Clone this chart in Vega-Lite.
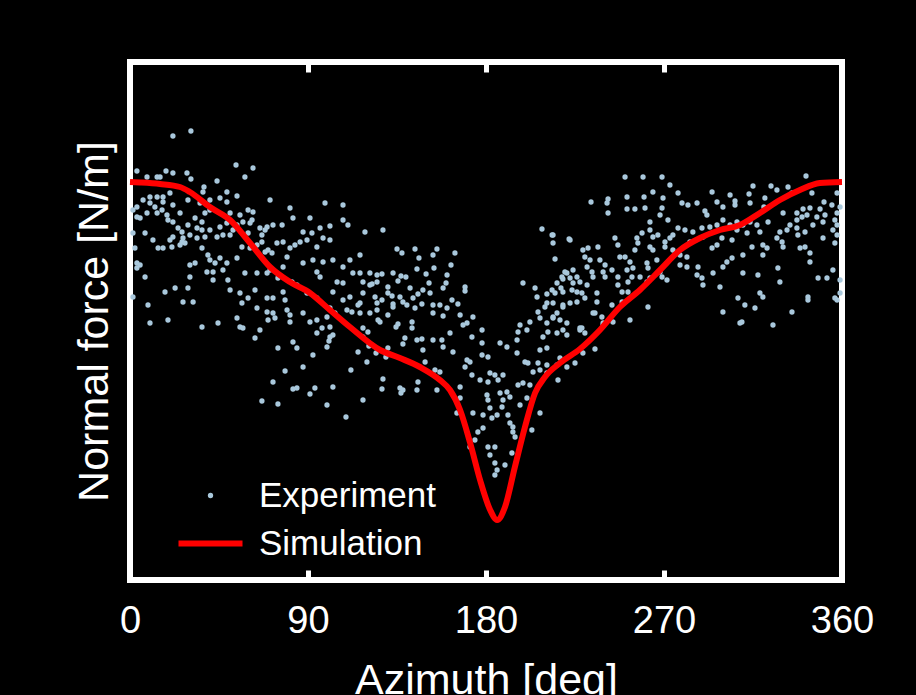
{
"$schema": "https://vega.github.io/schema/vega-lite/v6.json",
"width": 712, "height": 518,
"autosize": {"type": "none"},
"padding": {"left": 130, "top": 62, "right": 74, "bottom": 115},
"background": "#000000",
"config": {"view": {"stroke": "#ffffff", "strokeWidth": 6}, "font": "Liberation Sans"},
"datasets": {
"experiment": [
{"az":21.7,"force":4.44},{"az":30.8,"force":4.49},{"az":3.5,"force":4.09},{"az":8.6,"force":4.03},{"az":13.7,"force":4.03},{"az":15.2,"force":4.03},{"az":18.2,"force":4.09},{"az":21.7,"force":4.07},{"az":28.8,"force":4.07},{"az":30.8,"force":4.01},{"az":53.6,"force":4.15},{"az":62.2,"force":4.12},{"az":58.1,"force":4.03},{"az":44.0,"force":3.99},{"az":37.4,"force":3.93},{"az":36.9,"force":3.88},{"az":49.0,"force":3.88},{"az":54.1,"force":3.84},{"az":45.5,"force":3.82},{"az":40.4,"force":3.80},{"az":35.4,"force":3.77},{"az":29.3,"force":3.80},{"az":20.2,"force":3.87},{"az":16.7,"force":3.83},{"az":13.7,"force":3.83},{"az":10.1,"force":3.83},{"az":6.6,"force":3.80},{"az":3.5,"force":3.73},{"az":10.1,"force":3.77},{"az":12.6,"force":3.73},{"az":16.7,"force":3.78},{"az":21.7,"force":3.75},{"az":16.2,"force":3.70},{"az":18.7,"force":3.65},{"az":13.7,"force":3.67},{"az":8.6,"force":3.67},{"az":5.1,"force":3.62},{"az":3.5,"force":3.63},{"az":1.5,"force":3.70},{"az":25.3,"force":3.67},{"az":21.7,"force":3.58},{"az":19.2,"force":3.60},{"az":24.3,"force":3.52},{"az":29.3,"force":3.55},{"az":33.9,"force":3.52},{"az":36.4,"force":3.50},{"az":40.4,"force":3.50},{"az":45.5,"force":3.53},{"az":49.0,"force":3.57},{"az":50.6,"force":3.67},{"az":55.6,"force":3.65},{"az":59.7,"force":3.70},{"az":62.2,"force":3.68},{"az":61.7,"force":3.60},{"az":57.1,"force":3.58},{"az":54.1,"force":3.55},{"az":52.1,"force":3.50},{"az":50.6,"force":3.45},{"az":47.0,"force":3.45},{"az":44.0,"force":3.43},{"az":37.9,"force":3.43},{"az":33.9,"force":3.42},{"az":30.3,"force":3.45},{"az":26.8,"force":3.42},{"az":26.3,"force":3.48},{"az":21.7,"force":3.43},{"az":20.2,"force":3.40},{"az":26.3,"force":3.38},{"az":27.8,"force":3.37},{"az":25.3,"force":3.35},{"az":21.2,"force":3.33},{"az":16.7,"force":3.32},{"az":14.2,"force":3.32},{"az":11.6,"force":3.40},{"az":7.6,"force":3.47},{"az":1.5,"force":3.47},{"az":2.5,"force":3.32},{"az":3.5,"force":3.17},{"az":5.1,"force":3.15},{"az":3.5,"force":3.12},{"az":7.6,"force":3.03},{"az":1.5,"force":2.83},{"az":9.1,"force":2.75},{"az":10.1,"force":2.57},{"az":19.2,"force":2.60},{"az":17.7,"force":2.88},{"az":22.8,"force":2.92},{"az":29.3,"force":2.92},{"az":26.8,"force":2.78},{"az":31.9,"force":2.78},{"az":30.3,"force":3.03},{"az":30.3,"force":3.15},{"az":32.9,"force":3.17},{"az":36.4,"force":3.32},{"az":39.4,"force":3.25},{"az":40.4,"force":3.20},{"az":43.0,"force":3.17},{"az":45.5,"force":3.22},{"az":49.0,"force":3.17},{"az":47.0,"force":3.10},{"az":42.0,"force":3.08},{"az":38.9,"force":3.08},{"az":42.0,"force":3.00},{"az":49.5,"force":3.00},{"az":54.1,"force":3.22},{"az":56.6,"force":3.33},{"az":60.7,"force":3.32},{"az":66.7,"force":3.38},{"az":66.7,"force":3.45},{"az":64.2,"force":3.35},{"az":68.3,"force":3.28},{"az":69.3,"force":3.07},{"az":64.2,"force":3.07},{"az":58.1,"force":3.07},{"az":55.6,"force":2.87},{"az":59.7,"force":2.82},{"az":63.2,"force":2.90},{"az":50.6,"force":2.90},{"az":56.6,"force":2.77},{"az":64.2,"force":2.72},{"az":69.3,"force":2.68},{"az":72.3,"force":2.67},{"az":73.3,"force":2.62},{"az":69.8,"force":2.60},{"az":65.7,"force":2.50},{"az":54.1,"force":2.62},{"az":55.6,"force":2.53},{"az":57.1,"force":2.52},{"az":44.5,"force":2.57},{"az":36.4,"force":2.53},{"az":63.2,"force":2.42},{"az":74.8,"force":2.32},{"az":82.4,"force":2.38},{"az":84.4,"force":2.32},{"az":80.9,"force":2.58},{"az":79.4,"force":2.70},{"az":80.9,"force":2.65},{"az":87.5,"force":2.67},{"az":91.0,"force":2.58},{"az":94.5,"force":2.60},{"az":99.6,"force":2.63},{"az":101.1,"force":2.72},{"az":94.5,"force":2.82},{"az":89.5,"force":2.87},{"az":84.4,"force":2.95},{"az":81.9,"force":2.98},{"az":77.4,"force":2.88},{"az":72.3,"force":2.82},{"az":69.3,"force":2.82},{"az":78.4,"force":2.80},{"az":70.8,"force":3.10},{"az":74.8,"force":3.02},{"az":77.4,"force":3.13},{"az":79.4,"force":3.23},{"az":80.9,"force":3.32},{"az":83.4,"force":3.35},{"az":86.0,"force":3.38},{"az":87.5,"force":3.17},{"az":92.5,"force":3.20},{"az":94.5,"force":3.08},{"az":96.1,"force":3.03},{"az":97.6,"force":3.18},{"az":102.6,"force":3.20},{"az":107.7,"force":3.13},{"az":111.2,"force":3.20},{"az":116.3,"force":3.25},{"az":112.7,"force":3.07},{"az":116.3,"force":3.07},{"az":121.3,"force":3.07},{"az":124.9,"force":3.05},{"az":117.8,"force":2.98},{"az":121.3,"force":2.95},{"az":124.9,"force":2.98},{"az":123.9,"force":2.83},{"az":124.9,"force":2.77},{"az":117.8,"force":2.87},{"az":116.3,"force":2.77},{"az":111.2,"force":2.83},{"az":107.7,"force":2.80},{"az":102.6,"force":2.88},{"az":104.7,"force":2.98},{"az":107.7,"force":2.97},{"az":112.2,"force":2.68},{"az":116.3,"force":2.67},{"az":121.3,"force":2.67},{"az":124.9,"force":2.70},{"az":120.3,"force":2.48},{"az":125.4,"force":2.60},{"az":94.5,"force":2.47},{"az":101.1,"force":2.43},{"az":99.6,"force":2.33},{"az":117.8,"force":2.43},{"az":121.3,"force":2.35},{"az":107.7,"force":3.60},{"az":110.2,"force":3.55},{"az":101.1,"force":3.54},{"az":96.1,"force":3.52},{"az":91.0,"force":3.62},{"az":92.0,"force":3.47},{"az":80.9,"force":3.72},{"az":82.4,"force":3.62},{"az":76.9,"force":3.55},{"az":72.3,"force":3.55},{"az":69.3,"force":3.53},{"az":68.3,"force":3.50},{"az":65.7,"force":3.52},{"az":70.8,"force":3.80},{"az":98.6,"force":3.77},{"az":107.7,"force":3.75},{"az":118.8,"force":3.48},{"az":101.1,"force":3.40},{"az":97.6,"force":3.42},{"az":94.5,"force":3.33},{"az":89.5,"force":3.40},{"az":87.5,"force":3.48},{"az":77.4,"force":3.38},{"az":74.3,"force":3.37},{"az":71.8,"force":3.27},{"az":69.8,"force":3.30},{"az":59.7,"force":3.47},{"az":60.7,"force":3.57},{"az":49.0,"force":3.78},{"az":40.4,"force":3.70},{"az":37.9,"force":3.67},{"az":32.9,"force":3.62},{"az":36.4,"force":3.58},
{"az":97.1,"force":2.52},{"az":101.1,"force":2.53},{"az":102.6,"force":2.45},{"az":100.6,"force":2.39},{"az":92.5,"force":2.25},{"az":87.5,"force":2.13},{"az":78.4,"force":2.09},{"az":72.3,"force":1.98},{"az":82.4,"force":1.91},{"az":84.4,"force":1.92},{"az":93.5,"force":1.92},{"az":91.0,"force":1.86},{"az":66.7,"force":1.79},{"az":74.8,"force":1.76},{"az":99.6,"force":1.75},{"az":102.6,"force":1.93},{"az":109.2,"force":1.63},{"az":111.7,"force":2.10},{"az":115.3,"force":2.28},{"az":119.8,"force":2.18},{"az":120.8,"force":2.34},{"az":124.4,"force":2.27},{"az":129.4,"force":2.23},{"az":130.4,"force":2.32},{"az":127.9,"force":2.01},{"az":127.4,"force":1.91},{"az":117.8,"force":1.80},{"az":136.5,"force":1.92},{"az":137.0,"force":1.87},{"az":139.0,"force":2.42},{"az":138.0,"force":2.36},{"az":134.5,"force":2.53},{"az":135.5,"force":2.56},{"az":126.4,"force":2.58},{"az":115.3,"force":2.75},{"az":133.0,"force":2.73},{"az":140.0,"force":2.75},{"az":130.4,"force":2.65},{"az":109.7,"force":2.70},{"az":117.8,"force":2.52},{"az":103.6,"force":2.67},
{"az":127.9,"force":3.50},{"az":208.3,"force":3.51},{"az":213.9,"force":3.45},{"az":222.0,"force":3.41},{"az":135.0,"force":3.31},{"az":137.5,"force":3.27},{"az":144.1,"force":3.31},{"az":155.2,"force":3.31},{"az":164.3,"force":3.27},{"az":146.1,"force":3.22},{"az":153.2,"force":3.25},{"az":162.3,"force":3.15},{"az":214.9,"force":3.21},{"az":145.1,"force":3.11},{"az":153.7,"force":3.12},{"az":127.4,"force":3.06},{"az":133.0,"force":3.07},{"az":137.0,"force":3.04},{"az":139.5,"force":3.03},{"az":149.7,"force":3.06},{"az":160.3,"force":3.05},{"az":198.7,"force":2.97},{"az":204.8,"force":2.92},{"az":218.9,"force":3.01},{"az":220.9,"force":3.07},{"az":135.5,"force":2.99},{"az":122.4,"force":2.96},{"az":130.4,"force":2.93},{"az":141.6,"force":2.92},{"az":151.2,"force":2.97},{"az":159.8,"force":2.97},{"az":158.3,"force":2.92},{"az":169.4,"force":2.93},{"az":169.4,"force":2.89},{"az":130.4,"force":2.87},{"az":132.5,"force":2.84},{"az":148.1,"force":2.90},{"az":151.7,"force":2.87},{"az":145.6,"force":2.86},{"az":136.5,"force":2.83},{"az":127.4,"force":2.80},{"az":138.0,"force":2.78},{"az":143.1,"force":2.82},{"az":162.8,"force":2.80},{"az":165.8,"force":2.76},{"az":156.7,"force":2.75},{"az":147.6,"force":2.76},{"az":133.0,"force":2.76},{"az":205.8,"force":2.83},{"az":210.8,"force":2.86},{"az":214.9,"force":2.87},{"az":217.9,"force":2.92},{"az":209.8,"force":2.73},{"az":213.9,"force":2.77},
{"az":144.1,"force":2.72},{"az":153.2,"force":2.75},{"az":160.3,"force":2.72},{"az":153.2,"force":2.67},{"az":158.3,"force":2.64},{"az":166.9,"force":2.65},{"az":173.4,"force":2.63},{"az":170.4,"force":2.57},{"az":142.6,"force":2.58},{"az":142.6,"force":2.52},{"az":145.1,"force":2.40},{"az":147.6,"force":2.41},{"az":153.2,"force":2.40},{"az":157.7,"force":2.40},{"az":161.8,"force":2.47},{"az":168.4,"force":2.55},{"az":178.0,"force":2.50},{"az":172.9,"force":2.43},{"az":178.0,"force":2.37},{"az":158.3,"force":2.33},{"az":163.3,"force":2.28},{"az":148.1,"force":2.30},{"az":149.2,"force":2.18},{"az":154.2,"force":2.10},{"az":156.7,"force":2.08},{"az":170.4,"force":2.20},{"az":171.9,"force":2.18},{"az":169.4,"force":2.13},{"az":178.0,"force":2.25},{"az":181.0,"force":2.23},{"az":187.1,"force":2.37},{"az":190.6,"force":2.33},{"az":195.7,"force":2.40},{"az":197.2,"force":2.55},{"az":196.2,"force":2.48},{"az":202.2,"force":2.58},{"az":200.7,"force":2.50},{"az":207.3,"force":2.62},{"az":210.8,"force":2.57},{"az":213.9,"force":2.62},{"az":208.8,"force":2.43},{"az":211.3,"force":2.48},{"az":215.9,"force":2.47},{"az":220.9,"force":2.45},{"az":227.5,"force":2.52},{"az":230.0,"force":2.47},{"az":234.1,"force":2.67},{"az":218.9,"force":2.73},{"az":206.3,"force":2.68},{"az":210.8,"force":2.77},{"az":207.3,"force":2.30},{"az":210.8,"force":2.32},{"az":206.3,"force":2.17},{"az":199.7,"force":2.18},{"az":195.7,"force":2.27},{"az":201.2,"force":2.17},{"az":203.8,"force":2.08},{"az":207.3,"force":2.10},{"az":210.8,"force":2.15},{"az":215.9,"force":2.15},{"az":217.4,"force":2.22},{"az":220.9,"force":2.13},{"az":225.0,"force":2.17},{"az":210.8,"force":2.07},{"az":216.4,"force":2.00},{"az":202.2,"force":1.95},{"az":198.7,"force":1.97},{"az":196.2,"force":1.95},{"az":188.6,"force":2.05},{"az":184.5,"force":2.05},{"az":182.0,"force":2.07},{"az":177.0,"force":2.00},{"az":181.0,"force":1.98},{"az":172.9,"force":2.05},{"az":186.1,"force":2.00},{"az":190.6,"force":1.88},{"az":187.1,"force":1.87},{"az":192.1,"force":1.83},{"az":180.5,"force":1.85},{"az":181.0,"force":1.80},{"az":182.0,"force":1.72},{"az":188.6,"force":1.80},{"az":188.1,"force":1.73},{"az":191.1,"force":1.65},{"az":185.6,"force":1.65},{"az":183.0,"force":1.62},{"az":178.5,"force":1.65},{"az":173.4,"force":1.67},{"az":166.9,"force":1.93},{"az":166.9,"force":1.82},{"az":165.3,"force":1.67},{"az":155.2,"force":1.90},{"az":145.6,"force":1.98},{"az":145.1,"force":1.90},{"az":138.0,"force":1.90},{"az":193.6,"force":1.53},{"az":192.1,"force":1.57},{"az":193.6,"force":1.48},{"az":194.7,"force":1.43},{"az":203.2,"force":1.50},{"az":207.3,"force":1.67},{"az":197.2,"force":1.75},{"az":200.7,"force":1.82},{"az":178.5,"force":1.52},{"az":175.9,"force":1.48},{"az":174.4,"force":1.40},{"az":181.0,"force":1.33},{"az":184.5,"force":1.33},{"az":182.0,"force":1.25},{"az":184.5,"force":1.17},{"az":189.6,"force":1.15},{"az":185.6,"force":1.10},{"az":184.5,"force":1.05},{"az":193.1,"force":1.27},{"az":171.9,"force":1.33},
{"az":250.3,"force":4.03},{"az":259.4,"force":4.03},{"az":269.0,"force":4.03},{"az":273.0,"force":3.95},{"az":341.8,"force":4.04},{"az":233.1,"force":3.78},{"az":241.7,"force":3.81},{"az":241.2,"force":3.77},{"az":241.7,"force":3.67},{"az":251.3,"force":3.83},{"az":259.9,"force":3.83},{"az":269.5,"force":3.82},{"az":264.4,"force":3.88},{"az":277.1,"force":3.87},{"az":294.3,"force":3.88},{"az":303.4,"force":3.85},{"az":305.9,"force":3.79},{"az":313.0,"force":3.86},{"az":315.0,"force":3.94},{"az":324.1,"force":3.94},{"az":327.1,"force":3.90},{"az":332.7,"force":3.93},{"az":334.7,"force":3.87},{"az":344.8,"force":3.87},{"az":357.5,"force":3.87},{"az":251.3,"force":3.71},{"az":255.3,"force":3.71},{"az":260.4,"force":3.72},{"az":269.0,"force":3.72},{"az":279.1,"force":3.77},{"az":282.1,"force":3.75},{"az":286.7,"force":3.77},{"az":290.7,"force":3.69},{"az":291.7,"force":3.65},{"az":296.8,"force":3.78},{"az":299.8,"force":3.73},{"az":305.9,"force":3.75},{"az":313.5,"force":3.77},{"az":321.0,"force":3.82},{"az":320.5,"force":3.73},{"az":330.2,"force":3.67},{"az":337.2,"force":3.67},{"az":340.3,"force":3.71},{"az":343.8,"force":3.72},{"az":348.9,"force":3.71},{"az":350.9,"force":3.78},{"az":354.9,"force":3.75},{"az":357.5,"force":3.67},{"az":359.0,"force":3.73},{"az":337.2,"force":3.60},{"az":339.8,"force":3.63},{"az":342.3,"force":3.65},{"az":347.3,"force":3.63},{"az":350.4,"force":3.58},{"az":351.4,"force":3.65},{"az":356.4,"force":3.60},{"az":345.3,"force":3.55},{"az":341.3,"force":3.48},{"az":333.7,"force":3.55},{"az":332.2,"force":3.50},{"az":328.6,"force":3.48},{"az":327.1,"force":3.42},{"az":329.7,"force":3.38},{"az":337.2,"force":3.52},{"az":337.7,"force":3.45},{"az":330.2,"force":3.33},{"az":338.8,"force":3.32},{"az":341.3,"force":3.33},{"az":350.4,"force":3.42},{"az":356.4,"force":3.37},{"az":357.5,"force":3.45},{"az":355.4,"force":3.50},{"az":357.5,"force":3.55},{"az":299.8,"force":3.60},{"az":303.4,"force":3.55},{"az":306.9,"force":3.58},{"az":309.9,"force":3.55},{"az":313.5,"force":3.58},{"az":317.0,"force":3.55},{"az":322.6,"force":3.58},{"az":318.5,"force":3.48},{"az":289.2,"force":3.52},{"az":293.2,"force":3.53},{"az":296.8,"force":3.55},{"az":284.6,"force":3.48},{"az":283.1,"force":3.38},{"az":289.7,"force":3.43},{"az":296.8,"force":3.35},{"az":299.3,"force":3.42},{"az":294.3,"force":3.32},{"az":304.4,"force":3.40},{"az":312.0,"force":3.47},{"az":306.9,"force":3.50},{"az":320.0,"force":3.35},{"az":314.5,"force":3.33},{"az":322.1,"force":3.32},{"az":343.8,"force":3.27},{"az":320.0,"force":3.25},{"az":309.9,"force":3.25},{"az":301.8,"force":3.18},{"az":299.8,"force":3.13},{"az":304.4,"force":3.22},{"az":343.8,"force":3.18},{"az":347.9,"force":3.02},{"az":352.4,"force":3.02},{"az":359.0,"force":3.00},{"az":355.4,"force":3.10},{"az":342.8,"force":2.83},{"az":356.4,"force":2.82},{"az":359.0,"force":2.87},{"az":334.7,"force":2.68},{"az":325.1,"force":2.55},{"az":309.4,"force":2.58},{"az":307.4,"force":2.82},{"az":310.9,"force":2.75},{"az":316.0,"force":2.72},{"az":318.5,"force":2.87},{"az":320.0,"force":2.83},{"az":327.6,"force":3.12},{"az":328.6,"force":2.98},{"az":317.5,"force":3.05},{"az":309.9,"force":3.07},{"az":298.3,"force":2.93},{"az":294.8,"force":3.07},{"az":289.2,"force":3.02},{"az":289.7,"force":2.95},{"az":286.7,"force":3.05},{"az":287.2,"force":3.13},{"az":281.6,"force":3.13},{"az":278.1,"force":3.15},{"az":281.6,"force":3.23},{"az":278.1,"force":3.25},{"az":274.5,"force":3.30},{"az":270.5,"force":3.33},{"az":270.5,"force":3.38},{"az":273.0,"force":3.42},{"az":274.5,"force":3.45},{"az":280.6,"force":3.50},{"az":277.1,"force":3.52},{"az":272.0,"force":3.60},{"az":268.0,"force":3.65},{"az":262.9,"force":3.58},{"az":258.9,"force":3.47},{"az":256.3,"force":3.42},{"az":256.8,"force":3.37},{"az":255.3,"force":3.30},{"az":262.9,"force":3.33},{"az":264.4,"force":3.30},{"az":266.4,"force":3.20},{"az":261.4,"force":3.17},{"az":261.9,"force":3.12},{"az":268.0,"force":3.08},{"az":269.0,"force":3.03},{"az":271.5,"force":3.00},{"az":262.9,"force":3.02},{"az":261.4,"force":2.98},{"az":257.9,"force":3.03},{"az":253.8,"force":3.03},{"az":251.3,"force":3.10},{"az":251.8,"force":2.98},{"az":246.7,"force":3.03},{"az":246.7,"force":2.95},{"az":243.7,"force":3.10},{"az":240.2,"force":3.15},{"az":237.6,"force":3.20},{"az":236.6,"force":3.33},{"az":231.6,"force":3.32},{"az":229.0,"force":3.30},{"az":230.0,"force":3.23},{"az":232.6,"force":3.20},{"az":231.1,"force":3.13},{"az":239.2,"force":3.08},{"az":233.6,"force":3.08},{"az":234.1,"force":3.03},{"az":240.2,"force":3.03},{"az":245.2,"force":3.42},{"az":246.7,"force":3.35},{"az":247.7,"force":3.23},{"az":250.3,"force":3.23},{"az":252.8,"force":3.18},{"az":254.3,"force":3.12},{"az":264.4,"force":3.43},{"az":262.9,"force":3.50},{"az":266.9,"force":3.45},{"az":222.5,"force":3.40},{"az":219.9,"force":3.08},{"az":224.0,"force":3.10},{"az":222.5,"force":3.02},{"az":226.0,"force":3.03},{"az":227.5,"force":2.98},{"az":224.0,"force":2.97},{"az":218.4,"force":3.03},{"az":215.9,"force":2.97},{"az":213.4,"force":2.90},{"az":218.9,"force":2.88},{"az":223.5,"force":2.90},{"az":226.0,"force":2.88},{"az":228.5,"force":2.87},{"az":230.0,"force":2.82},{"az":231.1,"force":2.95},{"az":236.1,"force":2.87},{"az":236.1,"force":2.78},{"az":226.0,"force":2.78},{"az":222.5,"force":2.77},{"az":218.9,"force":2.75},{"az":215.9,"force":2.67},{"az":217.4,"force":2.60},{"az":220.9,"force":2.57},{"az":218.9,"force":2.50},{"az":213.9,"force":2.63},{"az":227.5,"force":2.50},{"az":235.1,"force":2.67},{"az":238.6,"force":2.63},{"az":239.2,"force":2.57},{"az":244.2,"force":2.58},{"az":252.8,"force":2.60},{"az":248.8,"force":2.78},{"az":261.9,"force":2.73},{"az":251.8,"force":2.88},{"az":248.8,"force":2.88},{"az":243.7,"force":2.75},{"az":213.4,"force":3.45},{"az":213.9,"force":3.37},
{"az":239.2,"force":2.55},{"az":228.5,"force":2.52},{"az":229.0,"force":2.27},{"az":235.1,"force":2.31},{"az":299.8,"force":2.68},{"az":308.4,"force":2.57},{"az":342.8,"force":2.80},{"az":357.5,"force":2.80}
],
"simulation": [
{"az":0,"force":3.98},{"az":5.1,"force":3.975},{"az":15.2,"force":3.96},{"az":25.3,"force":3.93},{"az":30.3,"force":3.88},{"az":40.4,"force":3.73},{"az":50.6,"force":3.60},{"az":60.7,"force":3.37},{"az":70.8,"force":3.13},{"az":80.9,"force":2.98},{"az":91.0,"force":2.87},{"az":101.1,"force":2.70},{"az":111.2,"force":2.53},{"az":126.4,"force":2.30},{"az":136.5,"force":2.22},{"az":146.6,"force":2.13},{"az":156.7,"force":2.00},{"az":161.8,"force":1.90},{"az":166.9,"force":1.70},{"az":172.0,"force":1.37},{"az":177.0,"force":1.00},{"az":182.1,"force":0.70},{"az":185.6,"force":0.60},{"az":189.6,"force":0.73},{"az":194.6,"force":1.13},{"az":199.7,"force":1.53},{"az":204.8,"force":1.87},{"az":209.8,"force":2.03},{"az":217.4,"force":2.17},{"az":227.5,"force":2.31},{"az":237.6,"force":2.50},{"az":247.7,"force":2.73},{"az":257.8,"force":2.90},{"az":268.0,"force":3.10},{"az":278.1,"force":3.30},{"az":288.2,"force":3.42},{"az":298.3,"force":3.50},{"az":308.4,"force":3.55},{"az":318.5,"force":3.67},{"az":328.6,"force":3.80},{"az":338.7,"force":3.90},{"az":348.8,"force":3.97},{"az":360,"force":3.98}
]
},
"layer": [
{
"data": {"name": "experiment"},
"mark": {"type": "point", "filled": true, "size": 28, "opacity": 1},
"encoding": {
"x": {"field": "az", "type": "quantitative", "scale": {"domain": [0, 360], "nice": false},
"axis": {"orient": "bottom", "values": [0, 90, 180, 270, 360], "title": "Azimuth [deg]", "titleFontSize": 43, "titleColor": "#ffffff", "titleFontWeight": "normal", "titlePadding": 19, "labelFontSize": 38, "labelColor": "#ffffff", "labelPadding": 32, "labelFlush": false, "tickSize": -10, "tickWidth": 5, "tickColor": "#ffffff", "domain": false, "grid": false}},
"y": {"field": "force", "type": "quantitative", "scale": {"domain": [0, 5.18], "nice": false, "zero": false},
"axis": {"title": "Normal force [N/m]", "labels": false, "ticks": false, "domain": false, "grid": false, "titleFontSize": 43, "titleColor": "#ffffff", "titleFontWeight": "normal", "titlePadding": 14}},
"color": {"datum": "Experiment", "type": "nominal",
"scale": {"domain": ["Experiment", "Simulation"], "range": ["#a9c8dc", "#ff0000"]},
"legend": {"title": null, "orient": "none", "legendX": 63, "legendY": 416, "padding": 0, "symbolSize": 4096, "symbolType": "stroke", "symbolStrokeWidth": 6, "labelFontSize": 35, "labelColor": "#ffffff", "labelOffset": 31, "labelLimit": 400, "rowPadding": 12,
"encode": {"symbols": {"update": {
"shape": {"signal": "datum.value === 'Simulation' ? 'stroke' : 'circle'"},
"size": {"signal": "datum.value === 'Simulation' ? 4096 : 28"},
"strokeWidth": {"signal": "datum.value === 'Simulation' ? 6 : 0"},
"fill": {"signal": "datum.value === 'Simulation' ? 'transparent' : '#a9c8dc'"},
"stroke": {"signal": "datum.value === 'Simulation' ? '#ff0000' : 'transparent'"},
"opacity": {"value": 1}}}}}}
}
},
{
"data": {"name": "simulation"},
"mark": {"type": "line", "strokeWidth": 6, "interpolate": "monotone"},
"encoding": {
"x": {"field": "az", "type": "quantitative", "scale": {"domain": [0, 360], "nice": false},
"axis": {"orient": "top", "values": [0, 90, 180, 270, 360], "labels": false, "title": null, "tickSize": -10, "tickWidth": 5, "tickColor": "#ffffff", "domain": false, "grid": false}},
"y": {"field": "force", "type": "quantitative", "scale": {"domain": [0, 5.18], "nice": false, "zero": false},
"axis": {"title": "Normal force [N/m]", "labels": false, "ticks": false, "domain": false, "grid": false, "titleFontSize": 43, "titleColor": "#ffffff", "titleFontWeight": "normal", "titlePadding": 14}},
"color": {"datum": "Simulation", "type": "nominal",
"scale": {"domain": ["Experiment", "Simulation"], "range": ["#a9c8dc", "#ff0000"]},
"legend": {"title": null, "orient": "none", "legendX": 63, "legendY": 416, "padding": 0, "symbolSize": 4096, "symbolType": "stroke", "symbolStrokeWidth": 6, "labelFontSize": 35, "labelColor": "#ffffff", "labelOffset": 31, "labelLimit": 400, "rowPadding": 12,
"encode": {"symbols": {"update": {
"shape": {"signal": "datum.value === 'Simulation' ? 'stroke' : 'circle'"},
"size": {"signal": "datum.value === 'Simulation' ? 4096 : 28"},
"strokeWidth": {"signal": "datum.value === 'Simulation' ? 6 : 0"},
"fill": {"signal": "datum.value === 'Simulation' ? 'transparent' : '#a9c8dc'"},
"stroke": {"signal": "datum.value === 'Simulation' ? '#ff0000' : 'transparent'"},
"opacity": {"value": 1}}}}}}
}
}
],
"resolve": {"axis": {"x": "independent"}}
}
